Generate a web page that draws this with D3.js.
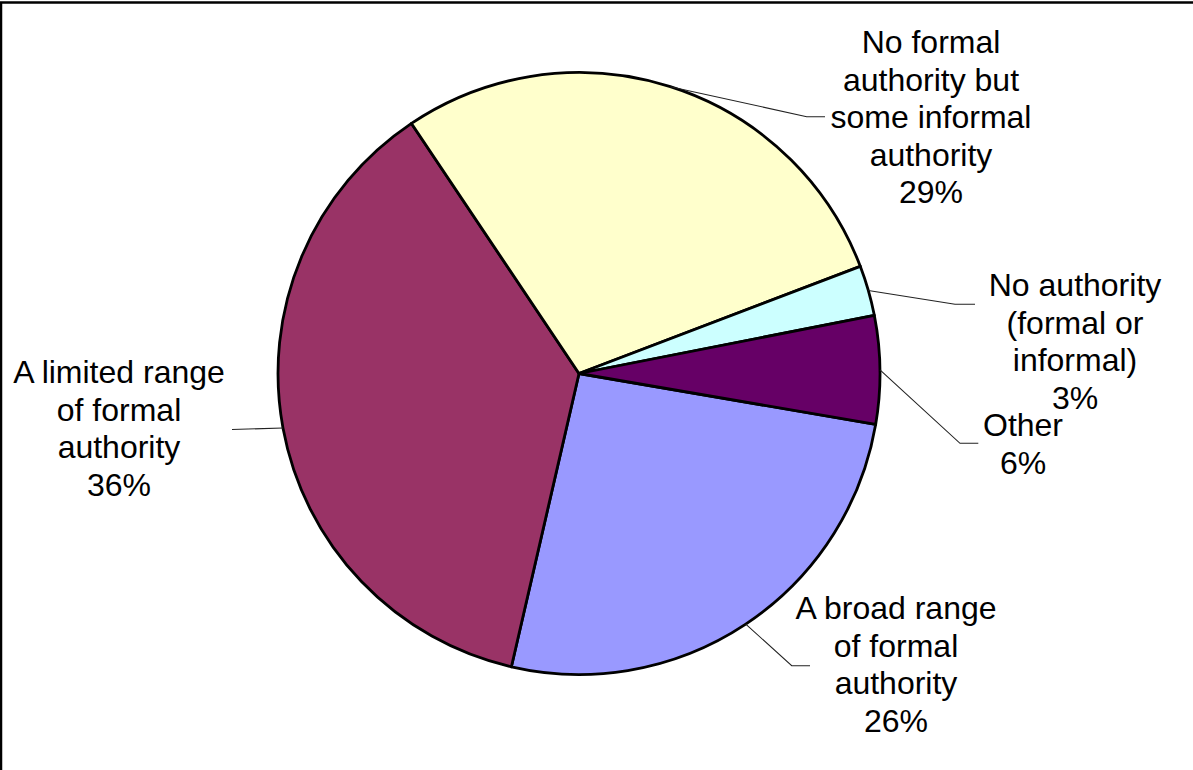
<!DOCTYPE html>
<html>
<head>
<meta charset="utf-8">
<script src="https://cdn.jsdelivr.net/npm/d3@7"></script>
<style>
  html, body { margin: 0; padding: 0; background: #fff; }
  svg { display: block; }
</style>
</head>
<body>
<svg id="chart" width="1193" height="770"></svg>
<script>
// ---- data ----
const categories = [
  "A broad range of formal authority",
  "A limited range of formal authority",
  "No formal authority but some informal authority",
  "No authority (formal or informal)",
  "Other"
];
const values = [25.9, 37.0, 28.6, 2.7, 5.8];
const percentLabels = ["26%", "36%", "29%", "3%", "6%"];
const labelLines = [
  ["A broad range", "of formal", "authority"],
  ["A limited range", "of formal", "authority"],
  ["No formal", "authority but", "some informal", "authority"],
  ["No authority", "(formal or", "informal)"],
  ["Other"]
];
const colors = ["#9999FF", "#993366", "#FFFFCC", "#CCFFFF", "#660066"];

// ---- layout ----
const cx = 579, cy = 373.5, R = 301;
const startDeg = 99.74;
const fontSize = 32;
const labelPos = [
  { x: 896, y: 619 },
  { x: 119, y: 383 },
  { x: 931, y: 53 },
  { x: 1075, y: 296 },
  { x: 1023, y: 436 }
];
const lineH = 37.5;
const leader = [
  [[791.7, 665.7], [810, 665.7]],
  [[232, 429.5]],
  [[806.7, 116.7], [825, 116.7]],
  [[955, 304.3], [975, 304.3]],
  [[960, 443.3], [978.3, 443.3]]
];

const svg = d3.select("#chart");

// frame
svg.append("rect")
  .attr("x", 1).attr("y", 2.5)
  .attr("width", 1300).attr("height", 900)
  .attr("fill", "none").attr("stroke", "#000").attr("stroke-width", 2.5);

const start = startDeg * Math.PI / 180;
const pie = d3.pie().sort(null).value(d => d)
  .startAngle(start).endAngle(start + 2 * Math.PI);
const arcs = pie(values);
const arc = d3.arc().innerRadius(0).outerRadius(R);

const g = svg.append("g").attr("transform", `translate(${cx},${cy})`);
g.selectAll("path.slice").data(arcs).join("path")
  .attr("class", "slice")
  .attr("d", arc)
  .attr("fill", (d, i) => colors[i])
  .attr("stroke", "#000")
  .attr("stroke-width", 2.8)
  .attr("stroke-linejoin", "round");

// leader lines
arcs.forEach((a, i) => {
  const mid = (a.startAngle + a.endAngle) / 2;
  const p0 = [cx + R * Math.sin(mid), cy - R * Math.cos(mid)];
  const pts = [p0].concat(leader[i]);
  svg.append("path")
    .attr("d", d3.line()(pts))
    .attr("fill", "none")
    .attr("stroke", "#222")
    .attr("stroke-width", 1.1);
});

// labels
arcs.forEach((a, i) => {
  const lines = labelLines[i].concat([percentLabels[i]]);
  const t = svg.append("text")
    .attr("text-anchor", "middle")
    .attr("font-family", "Arial, 'Liberation Sans', sans-serif")
    .attr("font-size", fontSize)
    .attr("fill", "#000");
  lines.forEach((s, k) => {
    t.append("tspan")
      .attr("x", labelPos[i].x)
      .attr("y", labelPos[i].y + k * lineH)
      .text(s);
  });
});
</script>
</body>
</html>
